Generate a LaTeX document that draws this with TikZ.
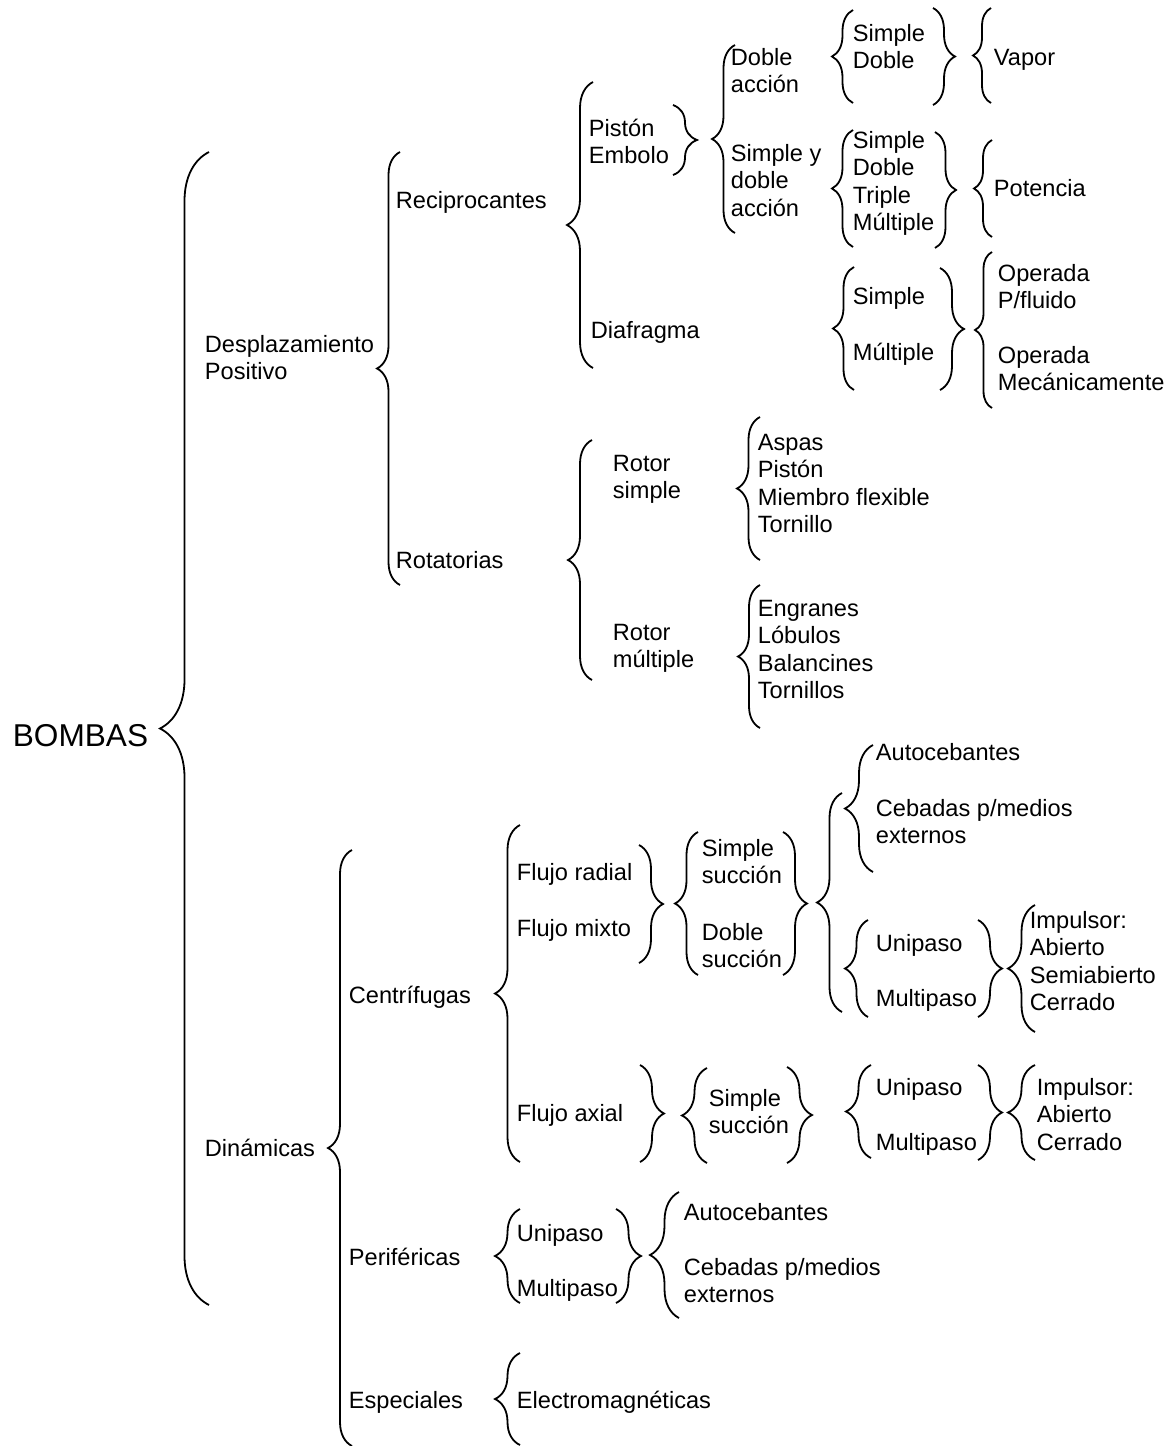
\documentclass[tikz,border=0pt]{standalone}
\usepackage{fontspec}
\setmainfont{Liberation Sans}
\usetikzlibrary{decorations.pathreplacing}

\tikzset{
  txt/.style={anchor=base west, inner sep=0pt, align=left, font=\fontsize{11.8}{13.75}\selectfont},
  llave/.style={decorate, decoration={brace, amplitude=#1}},
  llave/.default=12pt
}

\begin{document}
\begin{tikzpicture}[x=0.5pt, y=-0.5pt, line width=0.9pt]
\useasboundingbox (0,0) rectangle (1175,1446);

\node[txt, font=\fontsize{15.8}{18}\selectfont] (bombas) at (12,746) {BOMBAS};
\node[txt] (despl) at (204,379.5) {Desplazamiento\\Positivo};
\node[txt] (dinam) at (204,1156) {Dinámicas};

\node[txt] (recip) at (395,208) {Reciprocantes};
\node[txt] (rotat) at (395,568) {Rotatorias};
\node[txt] (piston) at (588,163.5) {Pistón\\Embolo};
\node[txt] (diafr) at (590,338) {Diafragma};
\node[txt] (dobleac) at (730,92.5) {Doble\\acción};
\node[txt] (simpledobleac) at (730,216) {Simple y\\doble\\acción};
\node[txt] (sd) at (852,68.5) {Simple\\Doble};
\node[txt] (vapor) at (993,65) {Vapor};
\node[txt] (sdtm) at (852,230.5) {Simple\\Doble\\Triple\\Múltiple};
\node[txt] (potencia) at (993,196) {Potencia};
\node[txt] (dsimple) at (852,304) {Simple};
\node[txt] (dmultiple) at (852,360) {Múltiple};
\node[txt] (opfluido) at (997,308.5) {Operada\\P/fluido};
\node[txt] (opmec) at (997,390.5) {Operada\\Mecánicamente};
\node[txt] (rotorsimple) at (612,498.5) {Rotor\\simple};
\node[txt] (rotormult) at (612,667.5) {Rotor\\múltiple};
\node[txt] (aspas) at (757,532.5) {Aspas\\Pistón\\Miembro flexible\\Tornillo};
\node[txt] (engranes) at (757,698.5) {Engranes\\Lóbulos\\Balancines\\Tornillos};

\node[txt] (centrif) at (348,1003) {Centrífugas};
\node[txt] (fradial) at (516,880) {Flujo radial};
\node[txt] (fmixto) at (516,936) {Flujo mixto};
\node[txt] (faxial) at (516,1121) {Flujo axial};
\node[txt] (simplesuc) at (701,883.5) {Simple\\succión};
\node[txt] (doblesuc) at (701,967.5) {Doble\\succión};
\node[txt] (autoceb) at (875,760) {Autocebantes};
\node[txt] (cebadas) at (875,843.5) {Cebadas p/medios\\externos};
\node[txt] (unip) at (875,951) {Unipaso};
\node[txt] (multip) at (875,1006) {Multipaso};
\node[txt] (impulsor) at (1029,1010.5) {Impulsor:\\Abierto\\Semiabierto\\Cerrado};
\node[txt] (simplesucax) at (708,1133.5) {Simple\\succión};
\node[txt] (unipax) at (875,1095) {Unipaso};
\node[txt] (multipax) at (875,1150) {Multipaso};
\node[txt] (impulsorax) at (1036,1150) {Impulsor:\\Abierto\\Cerrado};
\node[txt] (perif) at (348,1265) {Periféricas};
\node[txt] (unipper) at (516,1241) {Unipaso};
\node[txt] (multipper) at (516,1296) {Multipaso};
\node[txt] (autocebper) at (683,1220) {Autocebantes};
\node[txt] (cebadasper) at (683,1302.5) {Cebadas p/medios\\externos};
\node[txt] (espec) at (348,1408) {Especiales};
\node[txt] (electro) at (516,1408) {Electromagnéticas};

\draw[llave=24.5pt] (209,1305) -- (209,152);
\draw[llave=11.5pt] (400,585) -- (400,152);
\draw[llave=13pt] (593,368) -- (593,82);
\draw[llave=12pt] (592,680) -- (592,440);
\draw[llave] (673,105) -- (673,175);
\draw[llave=11.5pt] (735,233) -- (735,45);
\draw[llave=10.5pt] (853,103) -- (853,10);
\draw[llave=11pt] (933,8) -- (933,105);
\draw[llave=9pt] (991,103) -- (991,8);
\draw[llave=10.5pt] (853,247) -- (853,130);
\draw[llave=10.5pt] (935,132) -- (935,248);
\draw[llave=9pt] (992,237) -- (992,140);
\draw[llave=10.5pt] (854,390) -- (854,267);
\draw[llave] (940,268) -- (940,390);
\draw[llave=8.5pt] (992,408) -- (992,252);
\draw[llave=11.5pt] (760,560) -- (760,417);
\draw[llave=11pt] (760,728) -- (760,585);

\draw[llave] (352,1446) -- (352,850);
\draw[llave=12.5pt] (520,1162) -- (520,825);
\draw[llave] (639,845) -- (639,963);
\draw[llave=11.5pt] (698,975) -- (698,832);
\draw[llave] (783,832) -- (783,975);
\draw[llave=12.5pt] (842,1012) -- (842,793);
\draw[llave=14pt] (873,872) -- (873,745);
\draw[llave=11.5pt] (868,1017) -- (868,920);
\draw[llave] (978,920) -- (978,1017);
\draw[llave=13.5pt] (1035,1032) -- (1035,905);
\draw[llave] (640,1065) -- (640,1162);
\draw[llave=12.5pt] (707,1163) -- (707,1068);
\draw[llave=12.5pt] (787,1067) -- (787,1163);
\draw[llave=12.5pt] (871,1158) -- (871,1065);
\draw[llave] (978,1065) -- (978,1160);
\draw[llave=13.5pt] (1035,1160) -- (1035,1065);
\draw[llave=12.5pt] (520,1303) -- (520,1209);
\draw[llave=12.5pt] (616,1209) -- (616,1303);
\draw[llave=14.5pt] (679,1318) -- (679,1192);
\draw[llave=12.5pt] (520,1445) -- (520,1353);
\end{tikzpicture}
\end{document}
